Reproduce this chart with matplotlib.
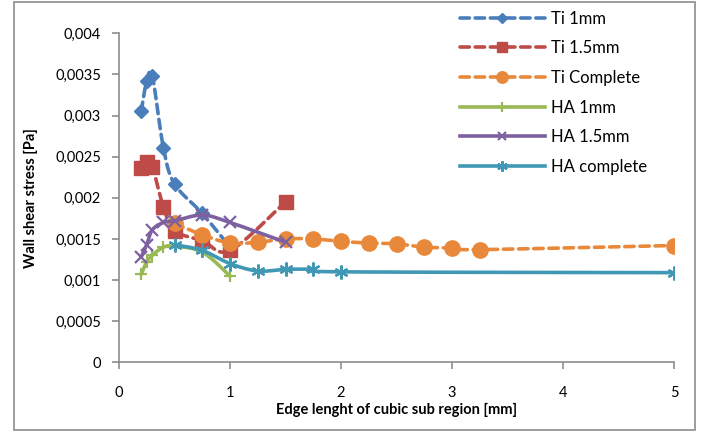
import numpy as np
import matplotlib
matplotlib.use("Agg")
import matplotlib.pyplot as plt
from matplotlib.lines import Line2D

plt.rcParams['font.family'] = ['Lato', 'DejaVu Sans']

# ---- data ----
ti1_x = [0.2, 0.25, 0.3, 0.4, 0.5, 0.75, 1.0]
ti1_y = [0.00305, 0.00342, 0.00348, 0.00261, 0.00217, 0.00181, 0.00140]

ti15_x = [0.2, 0.25, 0.3, 0.4, 0.5, 0.75, 1.0, 1.5]
ti15_y = [0.00236, 0.00244, 0.00238, 0.00189, 0.00160, 0.00148, 0.00136, 0.00195]

tic_x = [0.5, 0.75, 1.0, 1.25, 1.5, 1.75, 2.0, 2.25, 2.5, 2.75, 3.0, 3.25, 5.0]
tic_y = [0.00169, 0.00155, 0.00145, 0.00146, 0.00150, 0.00150, 0.00147, 0.00145,
         0.00144, 0.00140, 0.00139, 0.00137, 0.00142]

ha1_x = [0.2, 0.25, 0.3, 0.4, 0.5, 0.75, 1.0]
ha1_y = [0.00107, 0.00122, 0.00130, 0.00140, 0.00141, 0.00134, 0.00105]

ha15_x = [0.2, 0.25, 0.3, 0.4, 0.5, 0.75, 1.0, 1.5]
ha15_y = [0.00128, 0.00143, 0.00161, 0.00170, 0.00172, 0.00179, 0.00170, 0.00146]

hac_x = [0.5, 0.75, 1.0, 1.25, 1.5, 1.75, 2.0, 5.0]
hac_y = [0.00143, 0.00136, 0.00120, 0.00111, 0.00113, 0.00113, 0.00110, 0.00109]

labels = ["Ti 1mm", "Ti 1.5mm", "Ti Complete", "HA 1mm", "HA 1.5mm", "HA complete"]
y_ticks = [0, 0.0005, 0.001, 0.0015, 0.002, 0.0025, 0.003, 0.0035, 0.004]
y_ticklabels = ["0", "0,0005", "0,001", "0,0015", "0,002", "0,0025", "0,003", "0,0035", "0,004"]
x_ticks = [0, 1, 2, 3, 4, 5]


def smooth(x, y, n=20):
    """Excel-style smoothed line (cubic Bezier through the points)."""
    x = np.asarray(x, float)
    y = np.asarray(y, float)
    pts = np.column_stack([x, y])
    out = [pts[0]]
    m = len(pts)
    for i in range(m - 1):
        p0 = pts[i - 1] if i > 0 else pts[i]
        p1 = pts[i]
        p2 = pts[i + 1]
        p3 = pts[i + 2] if i + 2 < m else pts[i + 1]
        c1 = p1 + (p2 - p0) / 6.0
        c2 = p2 - (p3 - p1) / 6.0
        t = np.linspace(0, 1, n)[1:, None]
        seg = ((1 - t) ** 3) * p1 + 3 * ((1 - t) ** 2) * t * c1 + 3 * (1 - t) * t ** 2 * c2 + t ** 3 * p2
        out.extend(seg)
    out = np.array(out)
    return out[:, 0], out[:, 1]


fig = plt.figure(figsize=(7.05, 4.32), dpi=100)
# chart border
fig.patches.append(plt.Rectangle((14 / 705, 2 / 432), 681 / 705, 428 / 432, transform=fig.transFigure,
                                 fill=False, edgecolor="#8c8c8c", linewidth=1.2))
ax = fig.add_axes([119 / 705, 1 - 362.3 / 432, (674 - 119) / 705, (362.3 - 33.3) / 432])

series = [
    (ti1_x, ti1_y, "#4A7EBB", (0, (2.6, 1.6)), "D", 7, labels[0]),
    (ti15_x, ti15_y, "#BE4B48", (0, (2.6, 1.6)), "s", 10, labels[1]),
    (tic_x, tic_y, "#E8883A", (0, (2.6, 1.6)), "o", 11, labels[2]),
    (ha1_x, ha1_y, "#98B954", "-", "+", 9, labels[3]),
    (ha15_x, ha15_y, "#7D60A0", "-", "x", 8, labels[4]),
    (hac_x, hac_y, "#4198B5", "-", (6, 2, 0), 10, labels[5]),
]

handles = []
for i, (x, y, c, ls, mk, ms, lab) in enumerate(series):
    sx, sy = smooth(x, y)
    ax.plot(sx, sy, color=c, linestyle=ls, linewidth=2.6, zorder=2 + i, solid_capstyle="round",
            dash_capstyle="round")
    mew = 1.6 if mk in ("+", "x", (6, 2, 0)) else 1
    ax.plot(x, y, linestyle="none", marker=mk, markersize=ms, color=c, markeredgecolor=c,
            markeredgewidth=mew, zorder=2 + i + 0.5)
    handles.append(Line2D([0], [0], color=c, linestyle=ls, linewidth=2.6, marker=mk, markersize=ms * 0.75,
                          markeredgecolor=c, markeredgewidth=mew, dash_capstyle="round"))

ax.set_xlim(0, 5)
ax.set_ylim(0, 0.004)
ax.set_xticks(x_ticks)
ax.set_xticklabels([str(t) for t in x_ticks])
ax.set_yticks(y_ticks)
ax.set_yticklabels(y_ticklabels)
for s in ["top", "right"]:
    ax.spines[s].set_visible(False)
for s in ["left", "bottom"]:
    ax.spines[s].set_color("#8c8c8c")
    ax.spines[s].set_linewidth(1.2)
ax.tick_params(axis="both", direction="out", length=5, color="#8c8c8c", width=1.2,
               labelsize=10.5, labelcolor="black")
ax.tick_params(axis="x", pad=12)
ax.tick_params(axis="y", pad=8)
ax.set_facecolor("none")

ax.set_xlabel("Edge lenght of cubic sub region [mm]", fontsize=10.5, fontweight="bold", labelpad=2)
ax.set_ylabel("Wall shear stress [Pa]", fontsize=10.5, fontweight="bold", labelpad=12)

leg = fig.legend(handles, labels, loc="upper left", bbox_to_anchor=(453 / 705, 1 - 4 / 432),
                 frameon=False, fontsize=12, handlelength=5.1, handletextpad=0.4,
                 labelspacing=0.82, borderaxespad=0)

fig.savefig("out.png", dpi=100)
